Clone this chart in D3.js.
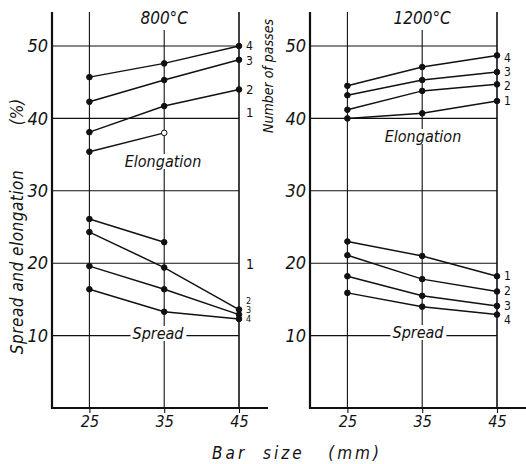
<!DOCTYPE html>
<html>
<head>
<meta charset="utf-8">
<script src="https://cdn.jsdelivr.net/npm/d3@7"></script>
<style>
  body { margin: 0; background: #fff; }
  svg text { font-family: "DejaVu Sans Condensed", "Liberation Sans Narrow", sans-serif; font-style: italic; fill: #111; }
</style>
</head>
<body>
<svg id="chart" width="526" height="464"></svg>
<script>
// bar size categories (mm) and y tick values (%)
var barSizes = [25, 35, 45];
var yTicks = [10, 20, 30, 40, 50];

// values per number of passes (1..4), at bar sizes 25, 35, 45
var elong800 = [[35.4, 38.0, null], [38.1, 41.7, 44.0], [42.3, 45.3, 48.1], [45.7, 47.6, 50.0]];
var spread800 = [[26.1, 22.9, null], [24.3, 19.4, 13.6], [19.6, 16.4, 12.9], [16.4, 13.3, 12.3]];
var elong1200 = [[40.0, 40.7, 42.4], [41.2, 43.8, 44.7], [43.2, 45.3, 46.4], [44.5, 47.1, 48.7]];
var spread1200 = [[23.0, 21.0, 18.2], [21.1, 17.8, 16.1], [18.2, 15.5, 14.1], [15.9, 14.0, 12.9]];

var svg = d3.select("#chart");
var y = d3.scaleLinear().domain([0, 50]).range([408, 46]);
var TOP = 12;

function drawPanel(opts) {
    var x = d3.scaleLinear().domain([20, 45]).range([opts.x0, opts.x0 + 187]);
    var g = svg.append("g");

    // horizontal grid
    g.selectAll("line.hgrid").data(yTicks).enter().append("line")
        .attr("x1", x(20)).attr("x2", x(45))
        .attr("y1", function (d) { return y(d); }).attr("y2", function (d) { return y(d); })
        .attr("stroke", "#111").attr("stroke-width", 1.1);

    // vertical grid
    g.selectAll("line.vgrid").data(barSizes).enter().append("line")
        .attr("x1", function (d) { return x(d); }).attr("x2", function (d) { return x(d); })
        .attr("y1", function (d) { return d === 35 ? 30 : TOP; }).attr("y2", y(0))
        .attr("stroke", "#111").attr("stroke-width", function (d) { return d === 45 ? 1.6 : 1.1; });

    // axis lines
    g.append("line").attr("x1", x(20)).attr("x2", x(20)).attr("y1", TOP).attr("y2", y(0) + 1)
        .attr("stroke", "#111").attr("stroke-width", 2.2);
    g.append("line").attr("x1", x(20) - 1).attr("x2", opts.xEnd).attr("y1", y(0)).attr("y2", y(0))
        .attr("stroke", "#111").attr("stroke-width", 2);

    // y tick labels
    var yAxis = g.append("g").attr("transform", "translate(" + x(20) + ",0)")
        .call(d3.axisLeft(y).tickValues(yTicks).tickSize(0).tickPadding(4));
    yAxis.select(".domain").remove();
    yAxis.selectAll("text").style("font-size", "18px").attr("font-family", null);

    // x tick labels
    var xAxis = g.append("g").attr("transform", "translate(0," + y(0) + ")")
        .call(d3.axisBottom(x).tickValues(barSizes).tickSize(5).tickPadding(3));
    xAxis.select(".domain").remove();
    xAxis.selectAll("line").attr("stroke", "#111").attr("stroke-width", 1.1);
    xAxis.selectAll("text").style("font-size", "16px").attr("font-family", null);

    // title
    g.append("text").attr("x", x(35)).attr("y", 24).attr("text-anchor", "middle")
        .style("font-size", "17px").text(opts.title);

    // white-backed labels over the grid
    function boxedLabel(text, cx, cy) {
        var t = g.append("text").attr("x", cx).attr("y", cy).attr("text-anchor", "middle")
            .style("font-size", "16px").text(text);
        var b = t.node().getBBox();
        g.insert("rect", function () { return t.node(); })
            .attr("x", b.x - 2).attr("y", b.y + 2).attr("width", b.width + 4).attr("height", b.height - 4)
            .attr("fill", "#fff");
    }
    boxedLabel("Elongation", opts.elongLabel[0], opts.elongLabel[1]);
    boxedLabel("Spread", opts.spreadLabel[0], opts.spreadLabel[1]);

    var line = d3.line()
        .defined(function (d) { return d !== null; })
        .x(function (d, i) { return x(barSizes[i]); })
        .y(function (d) { return y(d); });

    [opts.elong, opts.spread].forEach(function (set) {
        set.forEach(function (vals) {
            g.append("path").attr("d", line(vals)).attr("fill", "none")
                .attr("stroke", "#111").attr("stroke-width", 1.5);
            vals.forEach(function (v, i) {
                if (v === null) return;
                var open = opts.openPoint && set === opts.elong && vals === set[0] && i === 1;
                g.append("circle").attr("cx", x(barSizes[i])).attr("cy", y(v)).attr("r", 2.8)
                    .attr("fill", open ? "#fff" : "#111").attr("stroke", "#111").attr("stroke-width", 1);
            });
        });
    });

    // pass-number labels
    opts.passLabels.forEach(function (p) {
        g.append("text").attr("x", x(45) + 7).attr("y", p[1])
            .style("font-size", p[2] + "px").style("font-style", "normal").text(p[0]);
    });
}

drawPanel({
    x0: 52, xEnd: 268, title: "800°C",
    elong: elong800, spread: spread800, openPoint: true,
    elongLabel: [163, 167], spreadLabel: [158, 339],
    passLabels: [["4", 50, 12], ["3", 65, 12], ["2", 94, 13], ["1", 117, 13],
                 ["1", 269, 14], ["2", 304, 9], ["3", 313, 9], ["4", 322, 9]]
});

drawPanel({
    x0: 310, xEnd: 526, title: "1200°C",
    elong: elong1200, spread: spread1200, openPoint: false,
    elongLabel: [423, 142], spreadLabel: [418, 338],
    passLabels: [["4", 62, 12], ["3", 76, 12], ["2", 90, 12], ["1", 105, 12],
                 ["1", 280, 12], ["2", 295, 12], ["3", 310, 12], ["4", 324, 12]]
});

// axis titles
svg.append("text").attr("transform", "translate(23,112) rotate(-90)").attr("text-anchor", "middle")
    .style("font-size", "17px").text("(%)");
svg.append("text").attr("transform", "translate(23,262) rotate(-90)").attr("text-anchor", "middle")
    .style("font-size", "17px").style("letter-spacing", "0.5px").text("Spread  and  elongation");
svg.append("text").attr("transform", "translate(273,76) rotate(-90)").attr("text-anchor", "middle")
    .style("font-size", "14px").text("Number of passes");
svg.append("text").attr("x", 297).attr("y", 459).attr("text-anchor", "middle")
    .style("font-size", "17px").style("letter-spacing", "3px").attr("xml:space", "preserve")
    .text("Bar  size   (mm)");
</script>
</body>
</html>
